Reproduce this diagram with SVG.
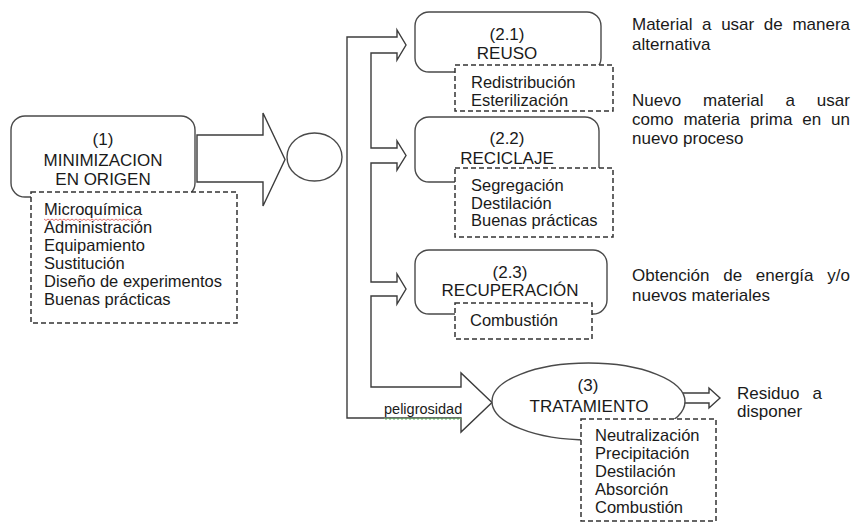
<svg xmlns="http://www.w3.org/2000/svg" width="856" height="523" viewBox="0 0 856 523">
<style>
.box{fill:#fff;stroke:#4a4a4a;stroke-width:1.4}
.dash{fill:#fff;stroke:#333;stroke-width:1.5;stroke-dasharray:5 3}
.con{fill:#fff;stroke:#3c3c3c;stroke-width:1.4;stroke-linejoin:miter}
text{font-family:"Liberation Sans",Arial,sans-serif;fill:#1a1a1a}
.t{font-size:17px;text-anchor:middle}
.i{font-size:16.5px}
.n{font-size:17px}
.s{font-size:14.5px}
</style>
<rect width="856" height="523" fill="#fff"/>
<g id="connectors">
<path class="con" d="M197,135 L263,135 L263,113 L285,159.5 L263,206 L263,182 L197,182 Z"/>
<path class="con" d="M347,37 L397,37 L397,30 L406,45 L397,60 L397,53 L371,53 L371,148 L397,148 L397,141 L406,155.5 L397,170 L397,163 L371,163 L371,282 L397,282 L397,274 L406,289 L397,304 L397,296 L371,296 L371,387 L461,387 L461,373 L492,402.5 L461,432 L461,418 L347,418 Z"/>
<path class="con" d="M683,393 L709,393 L709,388 L720,398 L709,408 L709,403 L683,403"/>
<text class="s" x="384" y="414">peligrosidad</text>
<path d="M384,418 l2,1.5 l2,-1.5 l2,1.5 l2,-1.5 l2,1.5 l2,-1.5 l2,1.5 l2,-1.5 l2,1.5 l2,-1.5 l2,1.5 l2,-1.5 l2,1.5 l2,-1.5 l2,1.5 l2,-1.5 l2,1.5 l2,-1.5 l2,1.5 l2,-1.5 l2,1.5 l2,-1.5 l2,1.5 l2,-1.5 l2,1.5 l2,-1.5 l2,1.5 l2,-1.5 l2,1.5 l2,-1.5 l2,1.5 l2,-1.5 l2,1.5 l2,-1.5 l2,1.5 l2,-1.5 l2,1.5 l2,-1.5 l2,1.5" fill="none" stroke="#6cbf6c" stroke-width="0.9"/>
</g>
<g id="node1">
<rect class="box" x="11" y="116" width="184" height="81" rx="14"/>
<text class="t" x="103" y="145">(1)</text>
<text class="t" x="103" y="166">MINIMIZACION</text>
<text class="t" x="103" y="185">EN ORIGEN</text>
<rect class="dash" x="31" y="192" width="206" height="131"/>
<text class="i" x="44" y="215">Microquímica</text>
<path d="M44,219 l2,1.5 l2,-1.5 l2,1.5 l2,-1.5 l2,1.5 l2,-1.5 l2,1.5 l2,-1.5 l2,1.5 l2,-1.5 l2,1.5 l2,-1.5 l2,1.5 l2,-1.5 l2,1.5 l2,-1.5 l2,1.5 l2,-1.5 l2,1.5 l2,-1.5 l2,1.5 l2,-1.5 l2,1.5 l2,-1.5 l2,1.5 l2,-1.5 l2,1.5 l2,-1.5 l2,1.5 l2,-1.5 l2,1.5 l2,-1.5 l2,1.5 l2,-1.5 l2,1.5 l2,-1.5 l2,1.5 l2,-1.5 l2,1.5 l2,-1.5 l2,1.5 l2,-1.5 l2,1.5 l2,-1.5 l2,1.5 l2,-1.5 l2,1.5 l2,-1.5" fill="none" stroke="#e06060" stroke-width="0.9"/>
<text class="i" x="44" y="233">Administración</text>
<text class="i" x="44" y="251">Equipamiento</text>
<text class="i" x="44" y="269">Sustitución</text>
<text class="i" x="44" y="287">Diseño de experimentos</text>
<text class="i" x="44" y="305">Buenas prácticas</text>
</g>
<g id="hub">
<ellipse class="box" cx="314.5" cy="157" rx="27.5" ry="24"/>
</g>
<g id="node21">
<rect class="box" x="415" y="12" width="186" height="60" rx="14"/>
<text class="t" x="507" y="40">(2.1)</text>
<text class="t" x="507" y="59">REUSO</text>
<rect class="dash" x="455" y="65" width="158" height="46"/>
<text class="i" x="471" y="88">Redistribución</text>
<text class="i" x="471" y="106">Esterilización</text>
</g>
<g id="node22">
<rect class="box" x="415" y="117" width="184" height="65" rx="14"/>
<text class="t" x="507" y="144">(2.2)</text>
<text class="t" x="507" y="164">RECICLAJE</text>
<rect class="dash" x="455" y="168" width="158" height="69"/>
<text class="i" x="471" y="191">Segregación</text>
<text class="i" x="471" y="209">Destilación</text>
<text class="i" x="471" y="226">Buenas prácticas</text>
</g>
<g id="node23">
<rect class="box" x="415" y="250" width="192" height="64" rx="14"/>
<text class="t" x="510" y="278">(2.3)</text>
<text class="t" x="510" y="296">RECUPERACIÓN</text>
<rect class="dash" x="455" y="303" width="137" height="36"/>
<text class="i" x="470" y="326">Combustión</text>
</g>
<g id="node3">
<ellipse class="box" cx="588.5" cy="401.5" rx="96.5" ry="38.5"/>
<text class="t" x="588" y="391">(3)</text>
<text class="t" x="589" y="412">TRATAMIENTO</text>
<rect class="dash" x="581" y="419" width="135" height="102"/>
<text class="i" x="595" y="441">Neutralización</text>
<text class="i" x="595" y="459">Precipitación</text>
<text class="i" x="595" y="477">Destilación</text>
<text class="i" x="595" y="495">Absorción</text>
<text class="i" x="595" y="513">Combustión</text>
</g>
<g id="notes">
<text class="n" x="632" y="30" word-spacing="4.9">Material a usar de manera</text>
<text class="n" x="632" y="50">alternativa</text>
<text class="n" x="632" y="106" word-spacing="17.2">Nuevo material a usar</text>
<text class="n" x="632" y="125" word-spacing="5.1">como materia prima en un</text>
<text class="n" x="632" y="144">nuevo proceso</text>
<text class="n" x="632" y="281" word-spacing="9">Obtención de energía y/o</text>
<text class="n" x="632" y="301">nuevos materiales</text>
<text class="n" x="737" y="399" word-spacing="8.5">Residuo a</text>
<text class="n" x="737" y="417">disponer</text>
</g>
</svg>
